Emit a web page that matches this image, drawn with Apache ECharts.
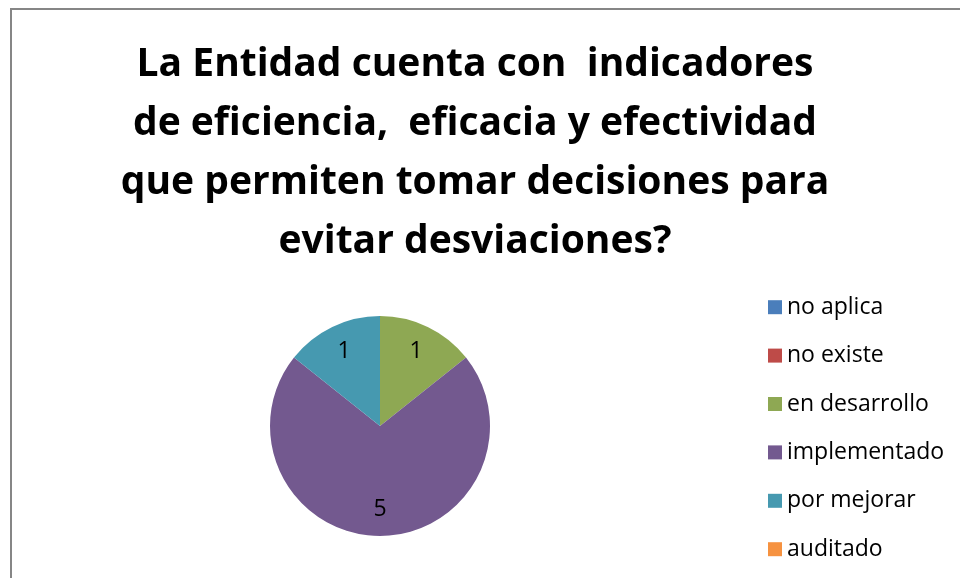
<!DOCTYPE html>
<html style="height: 100%">
<head>
    <meta charset="utf-8">
</head>
<body style="height: 100%; margin: 0">
    <div id="container" style="width: 960px; height: 578px;"></div>
    <script type="text/javascript" src="https://cdn.jsdelivr.net/npm/echarts@6/dist/echarts.min.js"></script>
    <script type="text/javascript">
        var categories = ['no aplica', 'no existe', 'en desarrollo', 'implementado', 'por mejorar', 'auditado'];
        var values = [0, 0, 1, 5, 1, 0];
        var colors = ['#4A7EBB', '#BE4B48', '#8EA853', '#73598F', '#4699B0', '#F69240'];
        var titleText = 'La Entidad cuenta con  indicadores\nde eficiencia,  eficacia y efectividad\nque permiten tomar decisiones para\nevitar desviaciones?';

        var dom = document.getElementById("container");
        var myChart = echarts.init(dom);

        var pieData = [];
        for (var i = 0; i < categories.length; i++) {
            pieData.push({ name: categories[i], value: values[i], itemStyle: { color: colors[i] } });
        }
        // same values again, only to place the labels further out than 'inside' does
        var labelData = [];
        for (var j = 0; j < categories.length; j++) {
            labelData.push({ name: categories[j], value: values[j] });
        }

        var option = {
            animation: false,
            color: colors,
            title: {
                text: titleText,
                left: 470,
                top: 30,
                textAlign: 'center',
                textStyle: {
                    fontFamily: 'Open Sans',
                    fontWeight: 'bold',
                    fontSize: 39,
                    lineHeight: 59,
                    color: '#000'
                }
            },
            legend: {
                orient: 'vertical',
                left: 763,
                top: 288,
                itemWidth: 14,
                itemHeight: 14,
                itemGap: 20,
                icon: 'rect',
                data: categories,
                textStyle: {
                    fontFamily: 'Open Sans',
                    fontSize: 23,
                    lineHeight: 28.4,
                    color: '#000',
                    padding: [0, 0, 0, 0]
                }
            },
            graphic: [{
                type: 'rect',
                shape: { x: 11, y: 9, width: 1000, height: 1000 },
                style: { fill: 'none', stroke: '#868686', lineWidth: 2 },
                silent: true
            }],
            series: [
                {
                    name: 'pie',
                    type: 'pie',
                    center: [380, 426],
                    radius: [0, 110],
                    startAngle: 90,
                    clockwise: true,
                    avoidLabelOverlap: false,
                    label: { show: false },
                    labelLine: { show: false },
                    itemStyle: { borderWidth: 0 },
                    data: pieData
                },
                {
                    name: 'labels',
                    type: 'pie',
                    center: [380, 426],
                    radius: [50, 110],
                    startAngle: 90,
                    clockwise: true,
                    silent: true,
                    avoidLabelOverlap: false,
                    itemStyle: { color: 'rgba(0,0,0,0)' },
                    label: {
                        show: true,
                        position: 'inside',
                        fontFamily: 'Open Sans',
                        fontSize: 23,
                        color: '#000',
                        formatter: function (p) {
                            return p.value === 0 ? '' : String(p.value);
                        }
                    },
                    labelLine: { show: false },
                    data: labelData
                }
            ]
        };

        if (option && typeof option === "object") {
            myChart.setOption(option, true);
        }
    </script>
</body>
</html>
